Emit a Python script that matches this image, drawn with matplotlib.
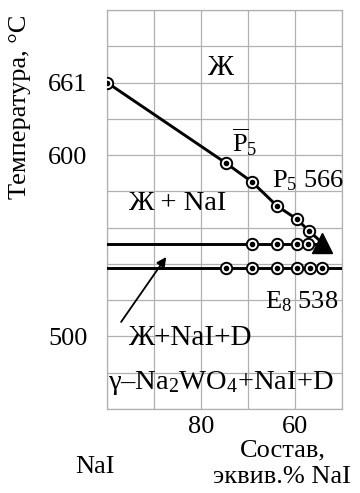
import numpy as np
import matplotlib
matplotlib.use('Agg')
import matplotlib.pyplot as plt
from matplotlib import rcParams
rcParams.update({'font.size': 19, 'font.family': 'Liberation Serif',
                 'mathtext.fontset': 'custom', 'mathtext.rm': 'Liberation Serif',
                 'mathtext.it': 'Liberation Serif:italic'})

# liquidus NaI (schematic temperatures as drawn)
liq_x = [100, 74.7, 69.1, 63.8, 59.6, 57.0]
liq_t = [640, 595.6, 585.1, 571.9, 564.7, 558.1]
# peritectic P5 point (triangle)
p5_x, p5_t = 54.15, 551.5
# horizontal P5 line and its points
per_t = 550.9
per_x = [69.1, 63.8, 59.6, 57.2]
# eutectic E8 line and its points
eut_t = 537.7
eut_x = [74.7, 69.1, 63.8, 59.6, 56.8, 54.3]

grid_x = np.arange(50, 101, 10)
grid_t = np.arange(460, 681, 20)
tick_t = [640, 600, 500]
tick_t_lab = ['661', '600', '500']
tick_x = [80, 60]

fig = plt.figure(figsize=(3.6, 4.93), dpi=100)
ax = fig.add_axes([107/360, 1-409/493, 235/360, 399/493])
ax.set_xlim(100, 50)
ax.set_ylim(460, 680)

gc = '#b0b0b0'
for gx in grid_x:
    ax.axvline(gx, color=gc, lw=0.9, zorder=1)
for gt in grid_t:
    ax.axhline(gt, color=gc, lw=0.9, zorder=1)
for s in ax.spines.values():
    s.set_color(gc)
    s.set_linewidth(0.9)

ax.set_yticks(tick_t)
ax.set_yticklabels(tick_t_lab)
ax.set_xticks(tick_x)
ax.set_xticklabels([str(v) for v in tick_x])
ax.tick_params(length=0, pad=5)
ax.tick_params(axis='y', pad=14)

lw = 2.1
ax.plot(liq_x + [p5_x], liq_t + [p5_t], color='black', lw=lw, zorder=3)
ax.plot([100, p5_x], [per_t, per_t], color='black', lw=lw, zorder=3)
ax.plot([100, 50], [eut_t, eut_t], color='black', lw=lw, zorder=3)

def circles(xs, ts):
    ax.plot(xs, ts, 'o', ms=8.2, mfc='white', mec='black', mew=1.4, zorder=4)
    ax.plot(xs, ts, 'o', ms=3.0, color='black', zorder=5)

circles(liq_x, liq_t)
circles(per_x, [per_t]*len(per_x))
circles(eut_x, [eut_t]*len(eut_x))
ax.plot([p5_x], [p5_t], marker='^', ms=15, color='black', zorder=6)

# labels of fields and points
ax.text(76, 648, 'Ж', ha='center', va='center', fontsize=21, zorder=7)
ax.text(70.6, 607, r'$\overline{\mathrm{P}}_5$', ha='center', va='center', zorder=7)
ax.text(64.9, 585.7, r'P$_5$ 566', ha='left', va='center', zorder=7)
ax.text(95.5, 573.5, 'Ж + NaI', ha='left', va='center', fontsize=20.5, zorder=7)
ax.text(66.4, 519, r'E$_8$ 538', ha='left', va='center', zorder=7)
ax.text(95.5, 499, 'Ж+NaI+D', ha='left', va='center', fontsize=21, zorder=7)
ax.text(99.8, 474.3, r'γ–Na$_2$WO$_4$+NaI+D', ha='left', va='center', fontsize=20.5, zorder=7)
ax.annotate('', xy=(87.4, 543.8), xytext=(97.0, 508),
            arrowprops=dict(arrowstyle='-|>', color='black', lw=1.3,
                            mutation_scale=14, shrinkA=0, shrinkB=0), zorder=7)

fig.text(20/360, 1-107/493, 'Температура, °С', rotation=90, ha='center', va='center')
fig.text(95/360, 1-467/493, 'NaI', ha='center', va='center')
fig.text(283/360, 1-450/493, 'Состав,', ha='center', va='center')
fig.text(282/360, 1-477/493, 'эквив.% NaI', ha='center', va='center')

fig.savefig('out.png', dpi=100)
